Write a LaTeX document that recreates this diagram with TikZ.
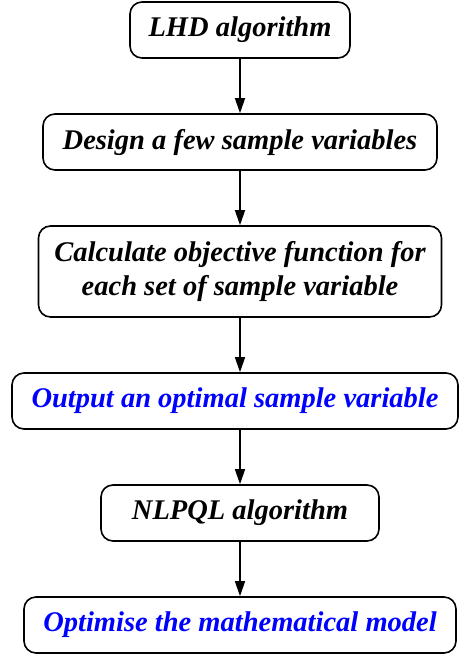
\documentclass[tikz,border=0pt]{standalone}
\usepackage{fontspec}
\setmainfont{Liberation Serif}
\usetikzlibrary{arrows.meta,positioning}
\definecolor{bluet}{HTML}{0000FF}
\tikzset{box/.style={draw=black,rounded corners=12pt,line width=1.6pt,align=center,minimum height=56pt,inner sep=0pt,font=\fontsize{28.5}{34}\selectfont\bfseries\itshape},arrow/.style={-{Triangle[length=15pt,width=10pt]},line width=1.4pt,draw=black}}

\begin{document}
\begin{tikzpicture}[node distance=54.4pt]
\useasboundingbox (0,0) rectangle (460pt,-657pt);
\node[box,minimum width=220pt] (lhd) at (240pt,-30pt) {LHD algorithm};
\node[box,minimum width=394pt,below=of lhd] (design) {Design a few sample variables};
\node[box,minimum width=403pt,minimum height=91pt,below=of design] (calc) {Calculate objective function for\\each set of sample variable};
\node[box,text=bluet,minimum width=446pt,below=of calc,xshift=-5pt] (output) {Output an optimal sample variable};
\node[box,minimum width=278pt,below=of output,xshift=5pt] (nlpql) {NLPQL algorithm};
\node[box,text=bluet,minimum width=432pt,below=of nlpql] (optim) {Optimise the mathematical model};
\draw[arrow] (lhd.south) -- (design.north);
\draw[arrow] (design.south) -- (calc.north);
\draw[arrow] (calc.south) -- (calc.south |- output.north);
\draw[arrow] (output.south -| nlpql.north) -- (nlpql.north);
\draw[arrow] (nlpql.south) -- (optim.north);
\end{tikzpicture}
\end{document}
